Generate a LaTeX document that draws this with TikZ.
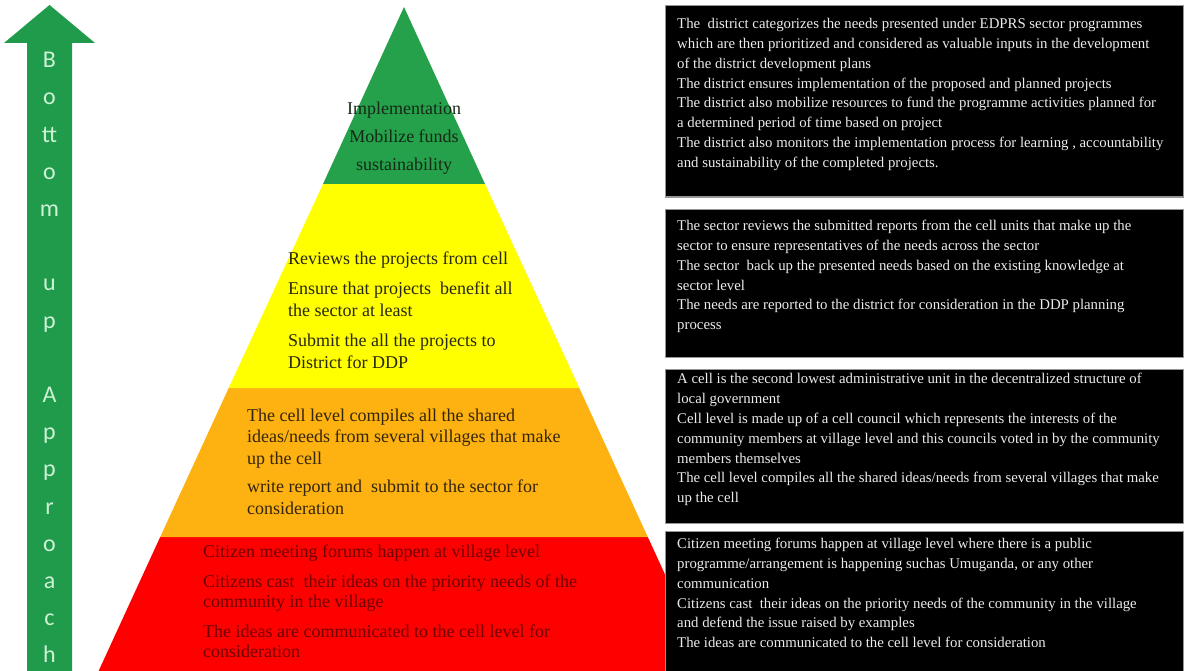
\documentclass[tikz,border=0pt]{standalone}
\usepackage{fontspec}
\setmainfont{Liberation Serif}
\newfontfamily\arrowfont{Carlito}

\definecolor{arrowgreen}{RGB}{31,155,75}
\definecolor{lettermint}{RGB}{205,243,212}
\definecolor{tiergreen}{RGB}{36,161,74}
\definecolor{tieryellow}{RGB}{255,255,0}
\definecolor{tierorange}{RGB}{253,178,18}
\definecolor{tierred}{RGB}{255,0,0}
\definecolor{inkgreen}{RGB}{22,40,22}
\definecolor{inkyellow}{RGB}{40,40,16}
\definecolor{inkorange}{RGB}{52,36,8}
\definecolor{inkred}{RGB}{112,0,0}
\definecolor{boxtext}{RGB}{236,236,236}
\definecolor{boxedge}{RGB}{150,150,150}

\tikzset{
  tiertext/.style={anchor=north west, inner sep=0pt, align=left},
  infobox/.style={fill=black, draw=boxedge, line width=1pt},
  infotext/.style={anchor=north west, inner sep=0pt, align=left, text=boxtext,
    font=\fontsize{14.8}{19.8}\selectfont},
}

\begin{document}
\begin{tikzpicture}[x=1pt, y=-1pt]
\useasboundingbox (0,0) rectangle (1185,671);

% upward arrow with its vertical caption
\fill[arrowgreen] (27,671) -- (27,43) -- (4,43) -- (49.5,5) -- (95,43)
  -- (72,43) -- (72,671) -- cycle;
\node (caption) [anchor=north, inner sep=0pt, align=center, text=lettermint,
  font=\arrowfont\fontsize{24}{37.2}\selectfont] at (49.5,41.5)
  {\strut B\\o\\tt\\o\\m\\\mbox{}\\u\\p\\\mbox{}\\A\\p\\p\\r\\o\\a\\c\\h};

% pyramid tiers (apex at 404,7; half width grows 0.46 per unit)
\coordinate (apex) at (404,7);
\coordinate (gl) at (323,184);   \coordinate (gr) at (485,184);
\coordinate (yl) at (228.7,388); \coordinate (yr) at (579.3,388);
\coordinate (ol) at (160.2,537); \coordinate (or) at (647.8,537);
\coordinate (rl) at (98.6,671);  \coordinate (rr) at (709.4,671);

\fill[tierred]    (ol) -- (or) -- (rr) -- (rl) -- cycle;
\fill[tierorange] (yl) -- (yr) -- (or) -- (ol) -- cycle;
\fill[tieryellow] (gl) -- (gr) -- (yr) -- (yl) -- cycle;
\fill[tiergreen]  (apex) -- (gr) -- (gl) -- cycle;

% tier texts
\node (district) [anchor=north, inner sep=0pt, align=center, text=inkgreen,
  font=\fontsize{18}{28}\selectfont] at (404,94.4)
  {\strut Implementation\\Mobilize funds\\sustainability};

\node (sector) [tiertext, text=inkyellow, font=\fontsize{18}{22}\selectfont]
  at (288,248.6)
  {\strut Reviews the projects from cell\\[8pt]
   Ensure that projects~ benefit all\\
   the sector at least\\[8pt]
   Submit the all the projects to\\
   District for DDP};

\node (cell) [tiertext, text=inkorange, font=\fontsize{18}{21.5}\selectfont]
  at (247,406)
  {\strut The cell level compiles all the shared\\
   ideas/needs from several villages that make\\
   up the cell\\[7pt]
   write report and~ submit to the sector for\\
   consideration};

\node (village) [tiertext, text=inkred, font=\fontsize{18}{20}\selectfont]
  at (203,543)
  {\strut Citizen meeting forums happen at village level\\[10pt]
   Citizens cast~ their ideas on the priority needs of the\\
   community in the village\\[10pt]
   The ideas are communicated to the cell level for\\
   consideration};

% explanation boxes
\draw[infobox] (665,6) rectangle (1183,197);
\draw[infobox] (665,209) rectangle (1183,357);
\draw[infobox] (665,369) rectangle (1183,523);
\draw[infobox] (665,531) rectangle (1183,675);

\node (districtinfo) [infotext] at (677,14.6)
  {\strut The~ district categorizes the needs presented under EDPRS sector programmes\\
   which are then prioritized and considered as valuable inputs in the development\\
   of the district development plans\\
   The district ensures implementation of the proposed and planned projects\\
   The district also mobilize resources to fund the programme activities planned for\\
   a determined period of time based on project\\
   The district also monitors the implementation process for learning , accountability\\
   and sustainability of the completed projects.};

\node (sectorinfo) [infotext] at (677,216.6)
  {\strut The sector reviews the submitted reports from the cell units that make up the\\
   sector to ensure representatives of the needs across the sector\\
   The sector~ back up the presented needs based on the existing knowledge at\\
   sector level\\
   The needs are reported to the district for consideration in the DDP planning\\
   process};

\node (cellinfo) [infotext] at (677,369.8)
  {\strut A cell is the second lowest administrative unit in the decentralized structure of\\
   local government\\
   Cell level is made up of a cell council which represents the interests of the\\
   community members at village level and this councils voted in by the community\\
   members themselves\\
   The cell level compiles all the shared ideas/needs from several villages that make\\
   up the cell};

\node (villageinfo) [infotext] at (677,534.6)
  {\strut Citizen meeting forums happen at village level where there is a public\\
   programme/arrangement is happening suchas Umuganda, or any other\\
   communication\\
   Citizens cast~ their ideas on the priority needs of the community in the village\\
   and defend the issue raised by examples\\
   The ideas are communicated to the cell level for consideration};
\end{tikzpicture}
\end{document}
